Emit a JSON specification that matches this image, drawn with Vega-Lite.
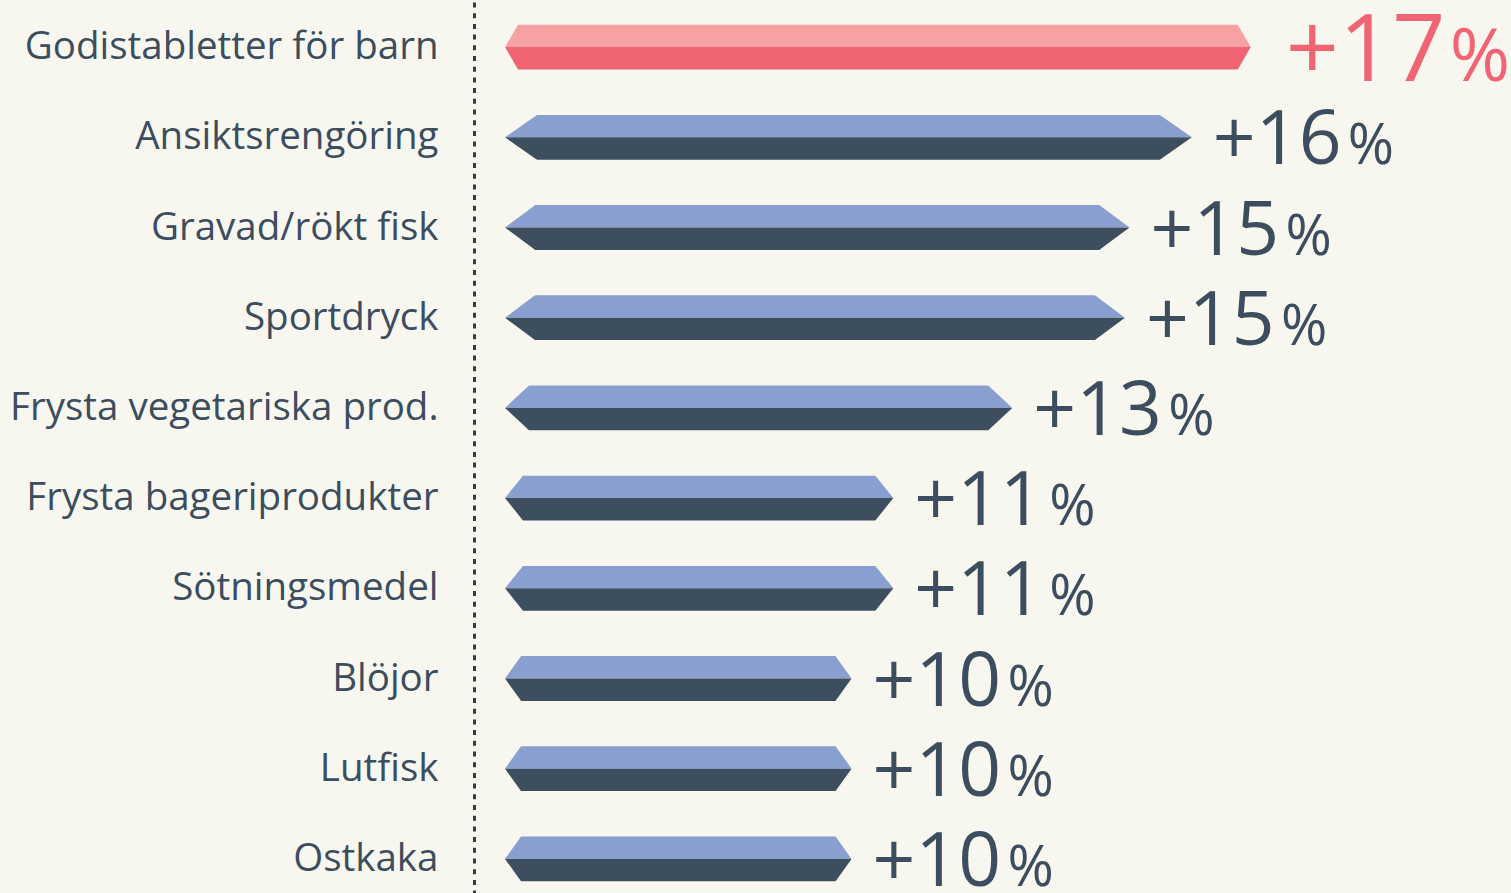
{
  "$schema": "https://vega.github.io/schema/vega-lite/v6.json",
  "width": 1006,
  "height": 893,
  "autosize": {"type": "none"},
  "padding": {"left": 505, "top": 0, "right": 0, "bottom": 0},
  "background": "#f8f7ef",
  "config": {"view": {"stroke": null}, "font": "Open Sans"},
  "data": {
    "values": [
      {"produkt": "Godistabletter för barn", "andel": 17.10},
      {"produkt": "Ansiktsrengöring", "andel": 16.07},
      {"produkt": "Gravad/rökt fisk", "andel": 14.98},
      {"produkt": "Sportdryck", "andel": 14.90},
      {"produkt": "Frysta vegetariska prod.", "andel": 12.93},
      {"produkt": "Frysta bageriprodukter", "andel": 10.85},
      {"produkt": "Sötningsmedel", "andel": 10.85},
      {"produkt": "Blöjor", "andel": 10.12},
      {"produkt": "Lutfisk", "andel": 10.12},
      {"produkt": "Ostkaka", "andel": 10.12}
    ]
  },
  "encoding": {
    "y": {
      "field": "produkt",
      "type": "nominal",
      "sort": null,
      "scale": {"range": [2, 904], "paddingInner": 0, "paddingOuter": 0},
      "axis": {
        "title": null,
        "orient": "left",
        "offset": 31,
        "ticks": false,
        "tickSize": 0,
        "grid": false,
        "domain": true,
        "domainColor": "#2c3e50",
        "domainWidth": 3,
        "domainDash": [5, 5.7],
        "labelFont": "Open Sans",
        "labelFontSize": 38.5,
        "labelColor": "#3b4d5e",
        "labelPadding": 36,
        "labelLimit": 0,
        "labelAlign": "right",
        "labelBaseline": "middle"
      }
    }
  },
  "layer": [
    {
      "mark": {"type": "bar", "size": 22.4, "yOffset": -11.2},
      "encoding": {
        "x": {"field": "andel", "type": "quantitative", "scale": {"domain": [4.06, 21.65], "zero": false, "nice": false}, "axis": null},
        "x2": {"datum": 4.06},
        "color": {
          "condition": {"test": "datum.produkt === 'Godistabletter för barn'", "value": "#f6a1a3"},
          "value": "#889fd0"
        }
      }
    },
    {
      "mark": {"type": "bar", "size": 22.4, "yOffset": 11.2},
      "encoding": {
        "x": {"field": "andel", "type": "quantitative", "axis": null},
        "x2": {"datum": 4.06},
        "color": {
          "condition": {"test": "datum.produkt === 'Godistabletter för barn'", "value": "#f06474"},
          "value": "#3d4f5f"
        }
      }
    },
    {
      "mark": {"type": "point", "filled": true, "opacity": 1, "size": 1998, "strokeWidth": 0, "color": "#f8f7ef"},
      "encoding": {
        "x": {"datum": 4.06, "type": "quantitative", "axis": null},
        "shape": {
          "field": "produkt",
          "type": "nominal",
          "legend": null,
          "scale": {
            "domain": ["Godistabletter för barn", "Ansiktsrengöring", "Gravad/rökt fisk", "Sportdryck", "Frysta vegetariska prod.", "Frysta bageriprodukter", "Sötningsmedel", "Blöjor", "Lutfisk", "Ostkaka"],
            "range": [
              "M -0.3 -1.2 L 0.582 -1.2 L 0.582 -1 L 0 0 L 0.582 1 L 0.582 1.2 L -0.3 1.2 Z",
              "M -0.3 -1.2 L 1.432 -1.2 L 1.432 -1 L 0 0 L 1.432 1 L 1.432 1.2 L -0.3 1.2 Z",
              "M -0.3 -1.2 L 1.342 -1.2 L 1.342 -1 L 0 0 L 1.342 1 L 1.342 1.2 L -0.3 1.2 Z",
              "M -0.3 -1.2 L 1.342 -1.2 L 1.342 -1 L 0 0 L 1.342 1 L 1.342 1.2 L -0.3 1.2 Z",
              "M -0.3 -1.2 L 1.074 -1.2 L 1.074 -1 L 0 0 L 1.074 1 L 1.074 1.2 L -0.3 1.2 Z",
              "M -0.3 -1.2 L 0.805 -1.2 L 0.805 -1 L 0 0 L 0.805 1 L 0.805 1.2 L -0.3 1.2 Z",
              "M -0.3 -1.2 L 0.805 -1.2 L 0.805 -1 L 0 0 L 0.805 1 L 0.805 1.2 L -0.3 1.2 Z",
              "M -0.3 -1.2 L 0.716 -1.2 L 0.716 -1 L 0 0 L 0.716 1 L 0.716 1.2 L -0.3 1.2 Z",
              "M -0.3 -1.2 L 0.716 -1.2 L 0.716 -1 L 0 0 L 0.716 1 L 0.716 1.2 L -0.3 1.2 Z",
              "M -0.3 -1.2 L 0.716 -1.2 L 0.716 -1 L 0 0 L 0.716 1 L 0.716 1.2 L -0.3 1.2 Z"
            ]
          }
        }
      }
    },
    {
      "mark": {"type": "point", "filled": true, "opacity": 1, "size": 1998, "strokeWidth": 0, "color": "#f8f7ef", "angle": 180},
      "encoding": {
        "x": {"field": "andel", "type": "quantitative", "axis": null},
        "shape": {"field": "produkt", "type": "nominal", "legend": null}
      }
    },
    {
      "transform": [{"filter": "datum.produkt !== 'Godistabletter för barn'"}],
      "mark": {"type": "text", "align": "left", "baseline": "alphabetic", "dx": 21, "dy": 27, "fontSize": 75, "font": "Open Sans", "color": "#3b4d5e"},
      "encoding": {
        "x": {"field": "andel", "type": "quantitative", "axis": null},
        "text": {"field": "andel", "type": "quantitative", "format": "+.0f"}
      }
    },
    {
      "transform": [{"filter": "datum.produkt !== 'Godistabletter för barn'"}],
      "mark": {"type": "text", "align": "left", "baseline": "alphabetic", "dx": 156, "dy": 27, "fontSize": 56, "font": "Open Sans", "color": "#3b4d5e"},
      "encoding": {
        "x": {"field": "andel", "type": "quantitative", "axis": null},
        "text": {"value": "%"}
      }
    },
    {
      "transform": [{"filter": "datum.produkt === 'Godistabletter för barn'"}],
      "mark": {"type": "text", "align": "left", "baseline": "alphabetic", "dx": 35, "dy": 34, "fontSize": 93, "font": "Open Sans", "color": "#f06474"},
      "encoding": {
        "x": {"field": "andel", "type": "quantitative", "axis": null},
        "text": {"field": "andel", "type": "quantitative", "format": "+.0f"}
      }
    },
    {
      "transform": [{"filter": "datum.produkt === 'Godistabletter för barn'"}],
      "mark": {"type": "text", "align": "left", "baseline": "alphabetic", "dx": 199, "dy": 34, "fontSize": 73, "font": "Open Sans", "color": "#f06474"},
      "encoding": {
        "x": {"field": "andel", "type": "quantitative", "axis": null},
        "text": {"value": "%"}
      }
    }
  ]
}
